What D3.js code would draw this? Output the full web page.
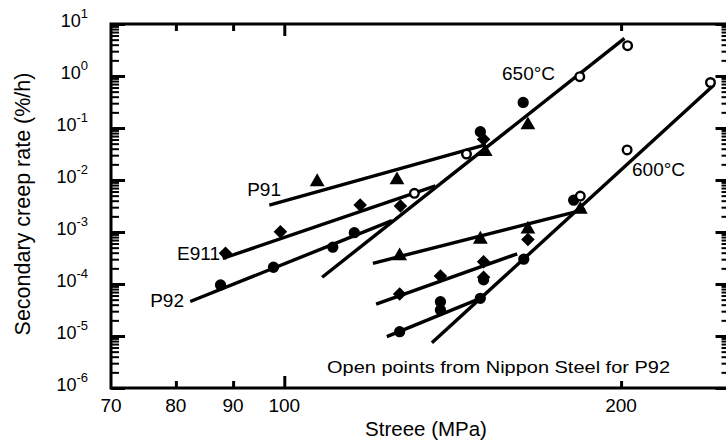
<!DOCTYPE html>
<html><head><meta charset="utf-8">
<script src="https://cdn.jsdelivr.net/npm/d3@7/dist/d3.min.js"></script>
<style>
body{margin:0;background:#fff}
svg{display:block}
text{font-family:"Liberation Sans",Arial,Helvetica,sans-serif;fill:#000}
</style>
</head><body>
<svg id="chart" width="726" height="442"></svg>
<script>
// ---- data (stress MPa, secondary creep rate %/h) ----
// 650 °C
const p91_650   = [[107.0,0.0092],[126.1,0.0100],[151.2,0.035],[165.1,0.114]];
const e911_650  = [[88.6,3.9e-4],[99.2,1.01e-3],[116.9,3.3e-3],[127.0,3.16e-3],[150.7,0.061]];
const p92_650   = [[87.7,9.6e-5],[97.8,2.1e-4],[110.5,5.1e-4],[115.5,9.7e-4],[149.7,0.085],[163.5,0.31]];
const nippon_650 = [[130.7,0.00555],[145.5,0.0316],[183.7,0.97],[202.7,3.83]];
// 600 °C
const p91_600   = [[126.8,3.45e-4],[149.7,7.2e-4],[165.1,1.13e-3],[183.9,2.7e-3]];
const e911_600  = [[126.8,6.4e-5],[137.9,1.43e-4],[150.7,2.68e-4],[150.7,1.35e-4],[165.1,7.2e-4]];
const p92_600   = [[126.8,1.21e-5],[137.9,4.57e-5],[137.9,3.16e-5],[149.7,5.3e-5],[150.7,1.2e-4],[163.7,3.0e-4],[181.4,4.1e-3]];
const nippon_600 = [[183.9,4.9e-3],[202.5,0.0378],[240.4,0.75]];
// fitted lines (end points)
const fit_p91_650  = [[96.96,0.0033],[150.9,0.047]];
const fit_e911_650 = [[88.1,3.1e-4],[136.5,7.7e-3]];
const fit_p92_650  = [[82.4,4.6e-5],[124.8,1.65e-3]];
const fit_all_650  = [[108.1,1.35e-4],[201.4,5.3]];
const fit_p91_600  = [[120.0,2.5e-4],[185.8,2.73e-3]];
const fit_e911_600 = [[120.8,4.1e-5],[161.5,3.8e-4]];
const fit_p92_600  = [[123.5,9.7e-6],[149.7,5.3e-5]];
const fit_all_600  = [[135.5,7.4e-6],[242.1,0.67]];
// axes
const xDomain = [70, 250];
const yDomain = [1e-6, 10];
const xTickLabels = [70, 80, 90, 100, 200];
const yExponents = [-6, -5, -4, -3, -2, -1, 0, 1];

// ---- drawing ----
const svg = d3.select("#chart");
const L = 111, R = 729.5, T = 24, B = 388;
const x = d3.scaleLog().domain(xDomain).range([L, R]);
const y = d3.scaleLog().domain(yDomain).range([B, T]);

const yMajor = yExponents.map(e => Math.pow(10, e));
const yMinor = [];
yExponents.slice(0, -1).forEach(e => { for (let k = 2; k <= 9; k++) yMinor.push(k * Math.pow(10, e)); });

const ax = svg.append("g");
function styleAxis(g, w) {
  g.select(".domain").remove();
  g.selectAll(".tick line").attr("stroke", "#000").attr("stroke-width", w);
  g.selectAll(".tick text").remove();
}
ax.append("g").attr("transform", `translate(${L},0)`)
  .call(d3.axisLeft(y).tickValues(yMinor).tickSize(-8)).call(g => styleAxis(g, 2));
ax.append("g").attr("transform", `translate(${L},0)`)
  .call(d3.axisLeft(y).tickValues(yMajor).tickSize(-14)).call(g => styleAxis(g, 3));
ax.append("g").attr("transform", `translate(${R},0)`)
  .call(d3.axisRight(y).tickValues(yMinor).tickSize(-8)).call(g => styleAxis(g, 2));
ax.append("g").attr("transform", `translate(${R},0)`)
  .call(d3.axisRight(y).tickValues(yMajor).tickSize(-14)).call(g => styleAxis(g, 3));
const xShort = xTickLabels.filter(v => v !== 70 && v !== 100);
ax.append("g").attr("transform", `translate(0,${T})`)
  .call(d3.axisTop(x).tickValues(xShort).tickSize(-7)).call(g => styleAxis(g, 3));
ax.append("g").attr("transform", `translate(0,${T})`)
  .call(d3.axisTop(x).tickValues([100]).tickSize(-12)).call(g => styleAxis(g, 3));
ax.append("g").attr("transform", `translate(0,${B})`)
  .call(d3.axisBottom(x).tickValues(xShort).tickSize(-7)).call(g => styleAxis(g, 3));
ax.append("g").attr("transform", `translate(0,${B})`)
  .call(d3.axisBottom(x).tickValues([100]).tickSize(-12)).call(g => styleAxis(g, 3));
ax.append("rect").attr("x", L).attr("y", T).attr("width", R - L).attr("height", B - T)
  .attr("fill", "none").attr("stroke", "#000").attr("stroke-width", 3);

// x tick labels
svg.append("g").selectAll("text").data(xTickLabels).join("text")
  .attr("x", d => x(d)).attr("y", 411.5).attr("text-anchor", "middle")
  .attr("font-size", 19).text(d => d);
// y tick labels
const yl = svg.append("g").selectAll("text").data(yExponents).join("text")
  .attr("x", 88).attr("y", d => y(Math.pow(10, d)) + 3).attr("text-anchor", "end")
  .attr("font-size", 18);
yl.append("tspan").text("10");
yl.append("tspan").attr("font-size", 13).attr("dy", -9).text(d => d);

// axis titles
svg.append("text").attr("x", 426).attr("y", 436).attr("text-anchor", "middle")
  .attr("font-size", 20.5).text("Streee (MPa)");
svg.append("text").attr("transform", "translate(30,204) rotate(-90)").attr("text-anchor", "middle")
  .attr("font-size", 21.5).text("Secondary creep rate (%/h)");

// fit lines
const fits = [fit_p91_650, fit_e911_650, fit_p92_650, fit_all_650, fit_p91_600, fit_e911_600, fit_p92_600, fit_all_600];
const line = d3.line().x(d => x(d[0])).y(d => y(d[1]));
svg.append("g").selectAll("path").data(fits).join("path")
  .attr("d", line).attr("fill", "none").attr("stroke", "#000").attr("stroke-width", 3.4)
  .attr("stroke-linecap", "butt");

// markers
const mk = svg.append("g");
function pts(data, type, size, rot) {
  mk.append("g").selectAll("path").data(data).join("path")
    .attr("d", d3.symbol().type(type).size(size))
    .attr("transform", d => `translate(${x(d[0])},${y(d[1])}) rotate(${rot || 0})`)
    .attr("fill", "#000");
}
pts(p91_650, d3.symbolTriangle, 95);
pts(p91_600, d3.symbolTriangle, 95);
pts(e911_650, d3.symbolSquare, 92, 45);
pts(e911_600, d3.symbolSquare, 92, 45);
pts(p92_650, d3.symbolCircle, 100);
pts(p92_600, d3.symbolCircle, 100);
mk.append("g").selectAll("circle").data(nippon_650.concat(nippon_600)).join("circle")
  .attr("cx", d => x(d[0])).attr("cy", d => y(d[1])).attr("r", 4.3)
  .attr("fill", "#fff").attr("stroke", "#000").attr("stroke-width", 2.4);

// annotations
const ann = svg.append("g").attr("font-size", 19);
ann.append("text").attr("x", 281).attr("y", 196).attr("text-anchor", "end").text("P91");
ann.append("text").attr("x", 177).attr("y", 260).text("E911");
ann.append("text").attr("x", 184).attr("y", 307).attr("text-anchor", "end").text("P92");
ann.append("text").attr("x", 502).attr("y", 80).text("650°C");
ann.append("text").attr("x", 632).attr("y", 176).text("600°C");
svg.append("text").attr("x", 327).attr("y", 373).attr("font-size", 17)
  .attr("textLength", 343).attr("lengthAdjust", "spacingAndGlyphs")
  .text("Open points from Nippon Steel for P92");
</script>
</body></html>
